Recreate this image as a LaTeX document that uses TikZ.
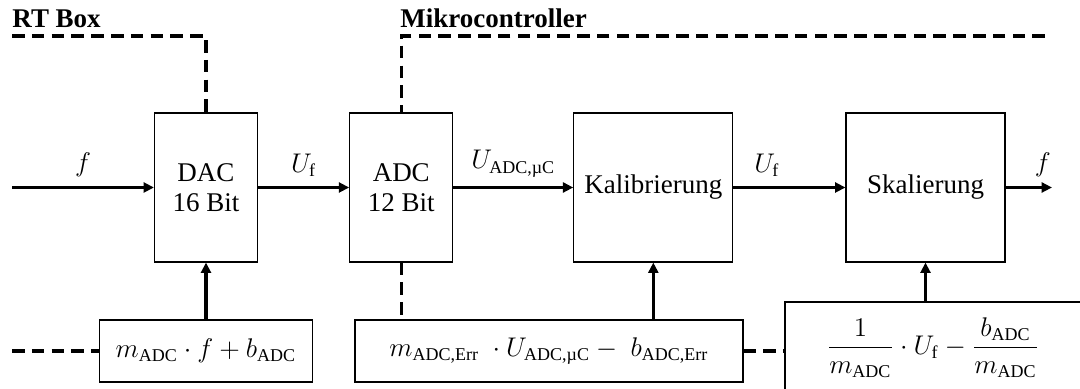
\documentclass[12pt,tikz,border=0pt]{standalone}
\usepackage{fontspec}
\usepackage{amsmath}
\setmainfont{Liberation Serif}
\usetikzlibrary{arrows.meta, positioning, calc}
\newcommand{\pxu}{0.4444pt}
\tikzset{
  % Signal blocks (middle row)
  blk/.style={
    draw, line width=0.5pt,
    align=center, inner sep=2pt,
    minimum width=103*\pxu, minimum height=149*\pxu,
    font=\fontsize{12pt}{13.5pt}\selectfont,
  },
  blkW/.style={blk, minimum width=159*\pxu},
  % Equation boxes (bottom row)
  eqn/.style={
    draw, line width=0.5pt,
    align=center, inner sep=2pt,
    minimum height=62*\pxu,
  },
  % Arrows
  arr/.style={-{Triangle[length=4.6pt,width=4.4pt]}, line width=1.45pt},
  % Region borders
  bound/.style={dash pattern=on 5.6pt off 3.2pt, line width=1.45pt},
  % Region titles
  title/.style={font=\bfseries, anchor=base west, inner sep=0pt},
}

\begin{document}
\begin{tikzpicture}[x=\pxu, y=-\pxu]

\clip (0,0) rectangle (1080,389);

%% =====================================================================
%% MIDDLE ROW - signal chain
%% =====================================================================

\node[blk] (dac) at (206,187.5) {DAC\\16 Bit};
\node[blk, right=40.5pt of dac] (adc) {ADC\\12 Bit};
\node[blkW, right=53.3pt of adc] (kal) {Kalibrierung};
\node[blkW, right=49.8pt of kal] (skal) {Skalierung};

\coordinate (fIn) at (12,187.5);
\coordinate (fOut) at (1052,187.5);

\draw[arr] (fIn) -- node[above] {$f$} (dac);
\draw[arr] (dac) -- node[above] {$U_{\text{f}}$} (adc);
\draw[arr] (adc) -- node[above] {$U_{\text{ADC,µC}}$} (kal);
\draw[arr] (kal) -- node[above, pos=0.3] {$U_{\text{f}}$} (skal);
\draw[arr] (skal) -- node[above, pos=0.8] {$f$} (fOut);

%% =====================================================================
%% BOTTOM ROW - parameter equations
%% =====================================================================

\node[eqn, minimum width=213*\pxu] (eqdac) at (206,351)
  {$m_{\text{ADC}} \cdot f + b_{\text{ADC}}$};
\node[eqn, minimum width=388*\pxu] (eqkal) at (549,351)
  {$m_{\text{ADC,Err}}\;\cdot U_{\text{ADC,µC}} - \;b_{\text{ADC,Err}}$};
\node[eqn, minimum width=296*\pxu, minimum height=91*\pxu] (eqskal) at (933,347.5)
  {$\dfrac{1}{m_{\text{ADC}}} \cdot U_{\text{f}} - \dfrac{b_{\text{ADC}}}{m_{\text{ADC}}}$};

\draw[arr] (eqdac) -- (dac);
\draw[arr] (kal.south |- eqkal.north) -- (kal.south);
\draw[arr] (skal.south |- eqskal.north) -- (skal.south);

%% =====================================================================
%% REGION BORDERS - RT Box | Mikrocontroller
%% =====================================================================

\node[title] (rtlbl) at (12,28) {RT Box};
\node[title] (mclbl) at (400,28) {Mikrocontroller};

\coordinate (rtL) at (12,36);
\coordinate (mcR) at (1045,36);
\coordinate (rtB) at (12,351);

\draw[bound] (rtL) -| (dac.north);
\draw[bound] (mcR) -| (adc.north);
\draw[bound] (adc.south) -- (adc.south |- eqkal.north);
\draw[bound] (rtB) -- (eqdac.west);
\draw[bound] (eqkal.east) -- (eqskal.west |- eqkal.east);

\end{tikzpicture}
\end{document}
